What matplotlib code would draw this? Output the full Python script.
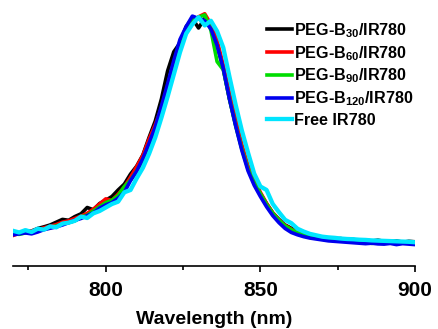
import numpy as np
import matplotlib
matplotlib.use("Agg")
import matplotlib.pyplot as plt

plt.rcParams['font.family'] = ['Liberation Sans', 'DejaVu Sans']
plt.rcParams['font.weight'] = 'bold'
plt.rcParams['mathtext.fontset'] = 'custom'
plt.rcParams['mathtext.rm'] = 'Liberation Sans:bold'
plt.rcParams['mathtext.bf'] = 'Liberation Sans:bold'
plt.rcParams['mathtext.default'] = 'bf'

wavelength = list(range(770, 901, 2))

peg_b30 = [.070, .062, .072, .074, .085, .092, .100, .112, .124, .120, .136, .148, .175, .165, .192, .206,
           .222, .250, .275, .318, .352, .400, .475, .545, .640, .760, .842, .880, .950, .985, .944, .985,
           .945, .872, .770, .640, .530, .430, .345, .282, .234, .192, .152, .124, .100, .086, .074, .064,
           .058, .050, .046, .044, .040, .042, .036, .038, .034, .036, .031, .035, .030, .028, .032, .026,
           .030, .028]
peg_b60 = [.055, .064, .068, .075, .079, .088, .094, .102, .112, .118, .128, .138, .150, .168, .190, .212,
           .205, .232, .262, .305, .350, .398, .468, .530, .600, .695, .790, .880, .935, .968, .992, 1.005,
           .960, .890, .785, .665, .555, .445, .355, .292, .240, .192, .152, .122, .098, .082, .068, .058,
           .052, .046, .043, .040, .037, .035, .034, .033, .030, .029, .028, .026, .025, .024, .026, .023,
           .025, .024]
peg_b90 = [.062, .060, .066, .070, .074, .082, .088, .096, .104, .110, .118, .134, .142, .160, .178, .196,
           .206, .226, .265, .292, .330, .380, .445, .515, .600, .690, .790, .885, .940, .975, .990, 1.000,
           .935, .800, .765, .640, .525, .425, .340, .280, .234, .188, .150, .120, .096, .080, .066, .057,
           .050, .045, .042, .039, .037, .034, .033, .031, .030, .028, .021, .026, .024, .022, .024, .022,
           .023, .022]
peg_b120 = [.058, .062, .066, .062, .070, .080, .086, .092, .100, .110, .120, .128, .140, .152, .172, .186,
            .196, .215, .240, .290, .330, .385, .450, .520, .610, .705, .805, .895, .950, .995, .985, .975,
            .940, .870, .770, .640, .525, .420, .332, .270, .222, .178, .140, .110, .085, .068, .058, .050,
            .044, .040, .036, .032, .030, .028, .026, .024, .022, .020, .022, .019, .018, .021, .016, .020,
            .018, .016]
free_ir780 = [.075, .068, .078, .070, .084, .080, .094, .090, .106, .110, .118, .136, .130, .150, .160, .175,
              .190, .200, .240, .250, .300, .345, .405, .475, .560, .650, .745, .840, .920, .960, .990, .955,
              .975, .930, .860, .735, .615, .505, .410, .320, .265, .250, .190, .155, .122, .108, .084, .072,
              .062, .056, .050, .047, .045, .042, .040, .039, .037, .036, .034, .033, .032, .031, .030, .029,
              .028, .026]

series = [
    ('PEG-B$_{30}$/IR780', peg_b30, '#000000', 2.6),
    ('PEG-B$_{60}$/IR780', peg_b60, '#ff0000', 2.6),
    ('PEG-B$_{90}$/IR780', peg_b90, '#00dd00', 2.6),
    ('PEG-B$_{120}$/IR780', peg_b120, '#0000ee', 2.6),
    ('Free IR780', free_ir780, '#00e5ff', 3.1),
]

fig = plt.figure(figsize=(4.38, 3.29), dpi=100)
ax = fig.add_axes([13/438, 1-266/329, (415-13)/438, 266/329])

for label, vals, color, lw in series:
    ax.plot(wavelength, vals, color=color, lw=lw, label=label, solid_joinstyle='round')

ax.set_xlim(770, 900)
ax.set_ylim(-0.0757, 1.064)
for s in ['left', 'right', 'top']:
    ax.spines[s].set_visible(False)
ax.spines['bottom'].set_linewidth(1.2)
ax.set_yticks([])
ax.set_xticks([800, 850, 900])
ax.set_xticks([775, 825, 875], minor=True)
ax.tick_params(axis='x', which='major', length=4, width=1.2, direction='out', pad=7,
               labelsize=15)
ax.tick_params(axis='x', which='minor', length=3, width=1.2, direction='out')
for t in ax.get_xticklabels():
    t.set_fontweight('bold')
ax.set_xlabel('Wavelength (nm)', fontsize=14, fontweight='bold', labelpad=7.5)

leg = ax.legend(loc='upper left', bbox_to_anchor=(267/438, 1-21/329), bbox_transform=fig.transFigure,
                frameon=False, fontsize=11.6, handlelength=1.55, handletextpad=0.1,
                labelspacing=0.26, borderpad=0, borderaxespad=0)
for t in leg.get_texts():
    t.set_fontweight('bold')

fig.savefig('out.png', dpi=100)
